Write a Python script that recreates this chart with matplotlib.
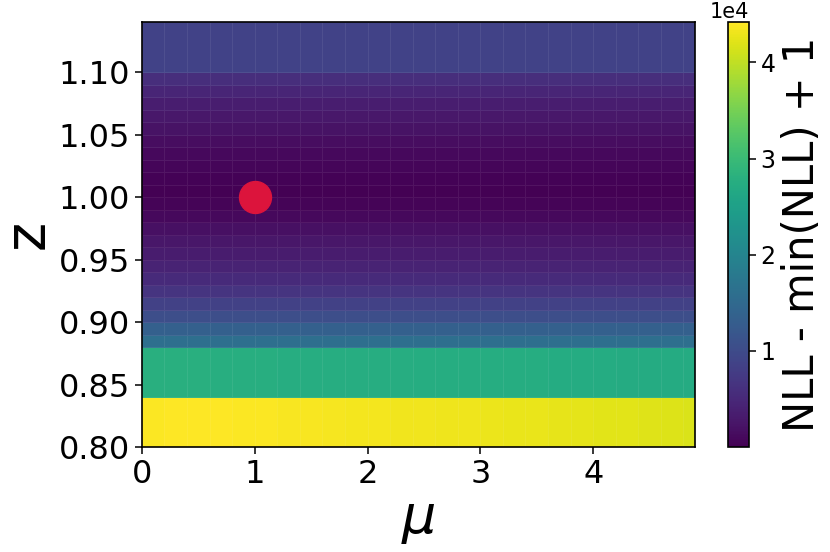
import numpy as np
import matplotlib
matplotlib.use('Agg')
from matplotlib import pyplot as plt

# grid edges
mu_edges = [0.0, 0.2, 0.4, 0.6, 0.8, 1.0, 1.2, 1.4, 1.6, 1.8, 2.0, 2.2, 2.4,
            2.6, 2.8, 3.0, 3.2, 3.4, 3.6, 3.8, 4.0, 4.2, 4.4, 4.6, 4.8, 4.9]
z_edges = [0.80, 0.84, 0.88, 0.89, 0.90, 0.91, 0.92, 0.93, 0.94, 0.95, 0.96,
           0.97, 0.98, 0.99, 1.00, 1.01, 1.02, 1.03, 1.04, 1.05, 1.06, 1.07,
           1.08, 1.09, 1.10, 1.14]

# NLL - min(NLL) + 1 (units of 1e4), one value per z band (flat in mu)
row_nll = [1.60, 1.33, 1.05, 0.85, 0.66, 0.52, 0.42, 0.34, 0.26, 0.18, 0.10,
           0.05, 0.0001, 0.02, 0.06, 0.10, 0.15, 0.21, 0.28, 0.36, 0.45, 0.58,
           0.88]
# the two lowest bands change a little along mu
green_nll = [2.78, 2.78, 2.78, 2.77, 2.77, 2.77, 2.76, 2.76, 2.76, 2.75, 2.75,
             2.75, 2.74, 2.74, 2.74, 2.73, 2.73, 2.73, 2.72, 2.72, 2.72, 2.71,
             2.71, 2.70, 2.70]
yellow_nll = [4.40, 4.42, 4.42, 4.41, 4.40, 4.39, 4.38, 4.37, 4.36, 4.35, 4.34,
              4.33, 4.32, 4.31, 4.30, 4.29, 4.28, 4.27, 4.26, 4.24, 4.23, 4.22,
              4.20, 4.19, 4.17]

best_mu = 1.0
best_z = 1.0

C = np.vstack([yellow_nll, green_nll,
               np.tile(np.array(row_nll)[:, None], (1, len(mu_edges) - 1))]) * 1e4

fig = plt.figure(figsize=(8.3, 5.52), dpi=100)
ax = fig.add_axes([0.171, 0.190, 0.666, 0.770])
cax = fig.add_axes([0.877, 0.190, 0.0253, 0.770])

mesh = ax.pcolormesh(mu_edges, z_edges, C, cmap='viridis', vmin=1, vmax=C.max(),
                     edgecolors=(1, 1, 1, 0.07), linewidth=0.6)
ax.plot(best_mu, best_z, 'o', color='crimson', markersize=23)

ax.set_xlim(0, 4.9)
ax.set_ylim(0.8, 1.14)
ax.set_xticks([0, 1, 2, 3, 4])
ax.set_yticks([0.80, 0.85, 0.90, 0.95, 1.00, 1.05, 1.10])
ax.tick_params(labelsize=23, length=5, width=1.1)
ax.set_xlabel(r'$\mu$', fontsize=39, labelpad=3)
ax.set_ylabel('z', fontsize=40, labelpad=3)
for s in ax.spines.values():
    s.set_linewidth(1.2)

cbar = fig.colorbar(mesh, cax=cax)
cbar.formatter.set_powerlimits((0, 0))
cbar.set_ticks([1e4, 2e4, 3e4, 4e4])
cbar.ax.tick_params(labelsize=17, length=5, width=1.1)
cbar.ax.yaxis.get_offset_text().set_fontsize(15)
cbar.outline.set_linewidth(1.2)
cbar.set_label('NLL - min(NLL) + 1', fontsize=30, labelpad=4)

fig.savefig('out.png', dpi=100)
